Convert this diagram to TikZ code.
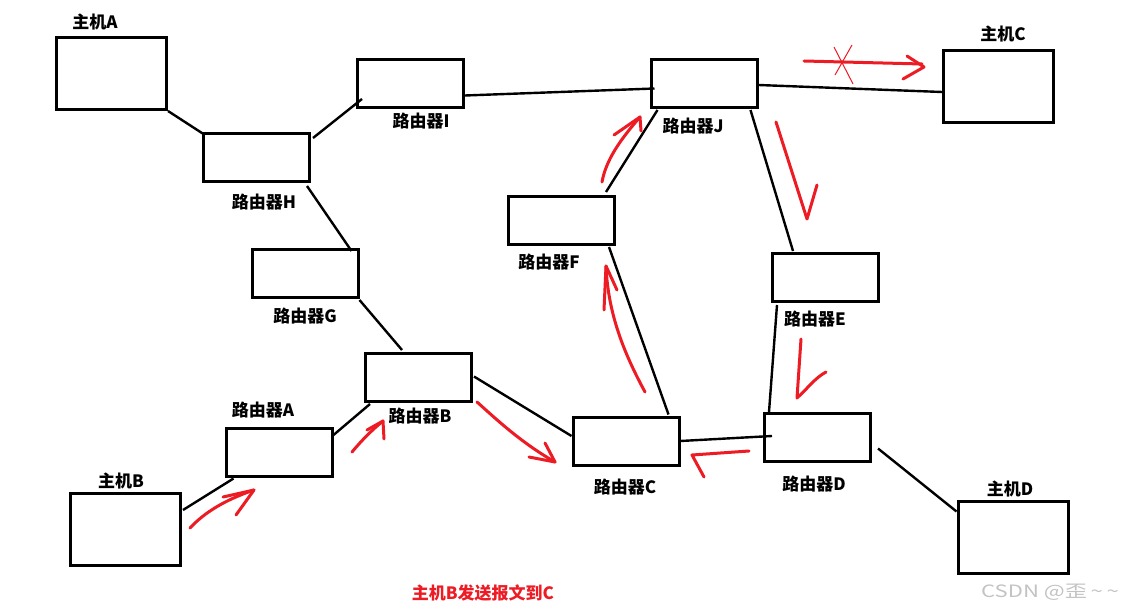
\documentclass[tikz,border=0pt]{standalone}
\usepackage{fontspec}
\newfontfamily\cjk{Noto Sans CJK SC}
\definecolor{pen}{RGB}{237,28,36}
\definecolor{mark}{RGB}{195,195,195}
\tikzset{
  router/.style={draw, line width=3pt, minimum width=106pt, minimum height=48pt, inner sep=0pt},
  host/.style={draw, line width=3pt, minimum width=110pt, minimum height=72pt, inner sep=0pt},
  lbl/.style={font=\cjk\bfseries\fontsize{17}{19}\selectfont, inner sep=0pt},
  link/.style={line width=2.4pt},
  redpen/.style={draw=pen, line width=3pt, line cap=round, line join=round},
  thinpen/.style={draw=pen, line width=1pt}
}
\begin{document}
\begin{tikzpicture}[x=1pt,y=-1pt]
\fill[white] (0,0) rectangle (1124,612);
\useasboundingbox (0,0) rectangle (1124,612);

% hosts
\node[host] (hA) at (111.5,73.5) {};
\node[host] (hB) at (125.5,529.5) {};
\node[host] (hC) at (998.5,86.5) {};
\node[host] (hD) at (1013,537.5) {};

% routers
\node[router] (I) at (410.5,83.5) {};
\node[router] (H) at (256.5,157.5) {};
\node[router] (G) at (305,273.5) {};
\node[router] (B) at (418.5,377.5) {};
\node[router] (A) at (279,452) {};
\node[router] (J) at (704,83.5) {};
\node[router] (F) at (561.5,220.5) {};
\node[router] (E) at (825.5,277.5) {};
\node[router] (C) at (626,441) {};
\node[router] (D) at (817.5,437.5) {};

% labels
\node[lbl] (lhA) at (95,22) {主机A};
\node[lbl] (lhB) at (121,481) {主机B};
\node[lbl] (lhC) at (1003,34) {主机C};
\node[lbl] (lhD) at (1010,489) {主机D};
\node[lbl] (lI) at (421,121) {路由器I};
\node[lbl] (lH) at (264,202) {路由器H};
\node[lbl] (lG) at (305,316) {路由器G};
\node[lbl] (lB) at (420,416) {路由器B};
\node[lbl] (lA) at (263,410) {路由器A};
\node[lbl] (lJ) at (693,126) {路由器J};
\node[lbl] (lF) at (549,262) {路由器F};
\node[lbl] (lE) at (815,319) {路由器E};
\node[lbl] (lC) at (625,487) {路由器C};
\node[lbl] (lD) at (814,484) {路由器D};

% links
\draw[link] (hA.south east) -- ([shift={(3,3)}]H.north west);
\draw[link] ([shift={(2,6)}]H.north east) -- ([shift={(6,-10)}]I.south west);
\draw[link] ([shift={(-4,3)}]H.south east) -- ([shift={(-8,3)}]G.north east);
\draw[link] ([shift={(0,12)}]I.east) -- ([shift={(5,5)}]J.west);
\draw[link] ([shift={(0,1.5)}]J.east) -- ([shift={(0,5.5)}]hC.west);
\draw[link] ([shift={(8,1)}]J.south west) -- ([shift={(-10,-3)}]F.north east);
\draw[link] ([shift={(-8,1)}]J.south east) -- ([shift={(22,-1)}]E.north west);
\draw[link] ([shift={(-7,1)}]F.south east) -- ([shift={(-12,-1)}]C.north east);
\draw[link] ([shift={(6,2)}]E.south west) -- ([shift={(6,0)}]D.north west);
\draw[link] (C.east) -- ([shift={(9,-1.5)}]D.west);
\draw[link] ([shift={(6,11)}]D.east) -- ([shift={(0,-26)}]hD.west);
\draw[link] ([shift={(0,1)}]G.south east) -- ([shift={(38,-2)}]B.north west);
\draw[link] ([shift={(1,-1)}]B.east) -- ([shift={(0,-5)}]C.west);
\draw[link] ([shift={(0,-17)}]A.east) -- ([shift={(6,1)}]B.south west);
\draw[link] ([shift={(1,18)}]hB.north east) -- ([shift={(9,1)}]A.south west);

% route of the packet, drawn by hand
\draw[redpen] (190,528) .. controls (205,512) and (225,500) .. (254,490);
\draw[redpen] (223,497) -- (254,490) -- (236,515);
\draw[redpen] (352,452) .. controls (362,440) and (372,430) .. (383,421);
\draw[redpen] (367,430) -- (383,421) -- (384,439);
\draw[redpen] (477,402) .. controls (495,418) and (520,442) .. (555,462);
\draw[redpen] (529,457) -- (555,462) -- (545,443);
\draw[redpen] (645,392) .. controls (625,355) and (608,315) .. (606,266);
\draw[redpen] (604,310) -- (606,266) -- (617,290);
\draw[redpen] (602,182) .. controls (606,160) and (620,140) .. (640,117);
\draw[redpen] (614,135) -- (640,117) -- (641,131);
\draw[redpen] (776,122) -- (807,219) -- (817,185);
\draw[redpen] (801,339) -- (797,398) .. controls (808,388) and (815,378) .. (826,372);
\draw[redpen] (749,451) -- (692,455) -- (704,477);
\draw[redpen] (804,61) -- (922,64);
\draw[redpen] (907,56) -- (924,67) -- (903,79);
\draw[thinpen] (834,47) -- (853,84);
\draw[thinpen] (852,45) -- (835,75);

% caption and mark
\node[lbl, text=pen] (cap) at (483,593) {主机B发送报文到C};
\node[font=\cjk\fontsize{17}{19}\selectfont, text=mark, inner sep=0pt] (wm) at (1050,592)
  {\scalebox{1.3}[1]{CSDN @歪\,\textasciitilde\,\textasciitilde}};
\end{tikzpicture}
\end{document}
